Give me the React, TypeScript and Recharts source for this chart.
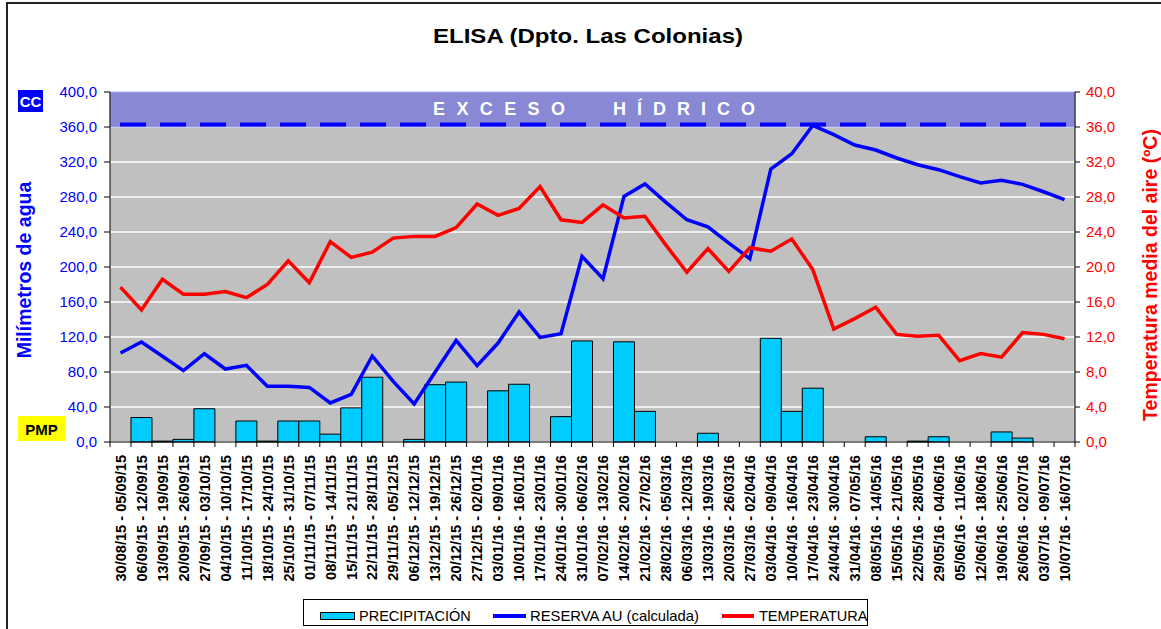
import React from 'react'
import { ComposedChart, Bar, Line, XAxis, YAxis, CartesianGrid, ReferenceArea, ReferenceLine } from 'recharts'

const FONT = '"Liberation Sans", Arial, Helvetica, sans-serif'

const semanas = [
  '30/08/15 - 05/09/15', '06/09/15 - 12/09/15', '13/09/15 - 19/09/15', '20/09/15 - 26/09/15',
  '27/09/15 - 03/10/15', '04/10/15 - 10/10/15', '11/10/15 - 17/10/15', '18/10/15 - 24/10/15',
  '25/10/15 - 31/10/15', '01/11/15 - 07/11/15', '08/11/15 - 14/11/15', '15/11/15 - 21/11/15',
  '22/11/15 - 28/11/15', '29/11/15 - 05/12/15', '06/12/15 - 12/12/15', '13/12/15 - 19/12/15',
  '20/12/15 - 26/12/15', '27/12/15 - 02/01/16', '03/01/16 - 09/01/16', '10/01/16 - 16/01/16',
  '17/01/16 - 23/01/16', '24/01/16 - 30/01/16', '31/01/16 - 06/02/16', '07/02/16 - 13/02/16',
  '14/02/16 - 20/02/16', '21/02/16 - 27/02/16', '28/02/16 - 05/03/16', '06/03/16 - 12/03/16',
  '13/03/16 - 19/03/16', '20/03/16 - 26/03/16', '27/03/16 - 02/04/16', '03/04/16 - 09/04/16',
  '10/04/16 - 16/04/16', '17/04/16 - 23/04/16', '24/04/16 - 30/04/16', '31/04/16 - 07/05/16',
  '08/05/16 - 14/05/16', '15/05/16 - 21/05/16', '22/05/16 - 28/05/16', '29/05/16 - 04/06/16',
  '05/06/16 - 11/06/16', '12/06/16 - 18/06/16', '19/06/16 - 25/06/16', '26/06/16 - 02/07/16',
  '03/07/16 - 09/07/16', '10/07/16 - 16/07/16',
]

// mm
const precipitacion = [
  0, 28, 1, 3, 38, 0, 24, 1, 24, 24, 9, 39, 74, 0, 3, 65.5, 68.5, 0, 58.5, 66, 0, 29, 115.5,
  0, 114.5, 35, 0, 0, 10, 0, 0, 118.5, 35, 61.5, 0, 0, 6, 0, 1, 6, 0, 0, 11.5, 4.5, 0, 0,
]

// mm
const reserva = [
  101.7, 114.3, 98, 81.5, 100.9, 83.4, 87.6, 63.6, 63.6, 62.4, 44.6, 54.4, 98.3, 69.3, 43.4, 80,
  116.1, 87.2, 113.1, 148.6, 119.5, 123.8, 212.1, 186.6, 280.7, 294.9, 273.8, 254, 246, 227.4,
  209.5, 312, 329.5, 361.8, 351.2, 339.4, 333.7, 324.6, 316.9, 311.2, 303.2, 296, 299, 294.4, 286,
  276.9,
]

// ºC
const temperatura = [
  17.7, 15.1, 18.6, 16.9, 16.9, 17.2, 16.5, 18.0, 20.7, 18.2, 22.9, 21.1, 21.7, 23.3, 23.5, 23.5,
  24.5, 27.2, 25.9, 26.7, 29.2, 25.4, 25.1, 27.1, 25.6, 25.8, 22.5, 19.4, 22.1, 19.5, 22.2, 21.8,
  23.2, 19.7, 12.9, 14.1, 15.4, 12.3, 12.1, 12.2, 9.3, 10.1, 9.7, 12.5, 12.3, 11.8,
]

const mmTicks = [0, 40, 80, 120, 160, 200, 240, 280, 320, 360, 400]
const tempTicks = [0, 4, 8, 12, 16, 20, 24, 28, 32, 36, 40]

const capacidadCampo = 360
const lineaCC = 363

const data = semanas.map((semana, i) => ({
  semana,
  precipitacion: precipitacion[i],
  reserva: reserva[i],
  temperatura: temperatura[i],
}))

const fmt = (v: number) => v.toFixed(1).replace('.', ',')

function WeekTick(props: any) {
  const { x, y, payload, index, visibleTicksCount } = props
  const half = payload && payload.offset ? payload.offset : 10.48
  const last = index === visibleTicksCount - 1
  return (
    <g>
      <line x1={x - half} x2={x - half} y1={y} y2={y + 5} stroke="#000" />
      {last && <line x1={x + half} x2={x + half} y1={y} y2={y + 5} stroke="#000" />}
      <text
        x={x}
        y={y + 13}
        transform={`rotate(-90, ${x}, ${y + 13})`}
        textAnchor="end"
        dy="0.36em"
        fontSize={14.6}
        fontWeight="bold"
        fontFamily={FONT}
        fill="#000"
      >
        {payload.value}
      </text>
    </g>
  )
}

function Overlay() {
  return (
    <svg
      width={1161}
      height={629}
      style={{ position: 'absolute', left: 0, top: 0, pointerEvents: 'none' }}
      fontFamily={FONT}
    >
      <line x1={6} y1={3} x2={1161} y2={3} stroke="#222" strokeWidth={2} />
      <line x1={7} y1={2} x2={7} y2={629} stroke="#222" strokeWidth={2} />

      <text x={588} y={43} textAnchor="middle" fontSize={21} fontWeight="bold" fill="#000" textLength={310} lengthAdjust="spacingAndGlyphs">
        ELISA (Dpto. Las Colonias)
      </text>

      <text x={433} y={115} fontSize={18} fontWeight="bold" fill="#fff" textLength={132} lengthAdjust="spacing">
        E X C E S O
      </text>
      <text x={613} y={115} fontSize={18} fontWeight="bold" fill="#fff" textLength={142} lengthAdjust="spacing">
        H Í D R I C O
      </text>

      <text x={24} y={270} transform="rotate(-90, 24, 270)" textAnchor="middle" dominantBaseline="central" fontSize={19.5} fontWeight="bold" fill="#0000FF">
        Milímetros de agua
      </text>
      <text x={1150} y={275} transform="rotate(-90, 1150, 275)" textAnchor="middle" dominantBaseline="central" fontSize={19.5} fontWeight="bold" fill="#FF0000">
        Temperatura media del aire (ºC)
      </text>

      <rect x={18} y={90} width={25} height={22} fill="#0000FF" />
      <text x={30.5} y={107} textAnchor="middle" fontSize={15} fontWeight="bold" fill="#fff">CC</text>
      <rect x={18} y={416} width={47} height={25} fill="#FFFF00" />
      <text x={41.5} y={435} textAnchor="middle" fontSize={15} fontWeight="bold" fill="#000">PMP</text>

      <rect x={303.5} y={599.5} width={564} height={26} fill="#fff" stroke="#000" />
      <rect x={320.5} y={612.5} width={34} height={7} fill="#00CCFF" stroke="#000" />
      <text x={359} y={621} fontSize={14.5} fill="#000">PRECIPITACIÓN</text>
      <line x1={493} x2={526} y1={616} y2={616} stroke="#0000FF" strokeWidth={4} />
      <text x={530} y={621} fontSize={14.5} fill="#000" textLength={169} lengthAdjust="spacingAndGlyphs">RESERVA AU (calculada)</text>
      <line x1={722} x2={754} y1={616} y2={616} stroke="#FF0000" strokeWidth={4} />
      <text x={759} y={621} fontSize={14.5} fill="#000">TEMPERATURA</text>
    </svg>
  )
}

export default function App() {
  return (
    <div style={{ position: 'absolute', left: 0, top: 0, width: 1161, height: 629, background: '#fff', fontFamily: FONT }}>
      <ComposedChart
        width={1161}
        height={629}
        data={data}
        margin={{ top: 92, right: 0, left: 0, bottom: 0 }}
        barCategoryGap={0}
        barGap={0}
      >
        <CartesianGrid yAxisId="mm" vertical={false} stroke="#ffffff" strokeWidth={1.5} fill="#C0C0C0" fillOpacity={1} />
        <XAxis
          dataKey="semana"
          interval={0}
          height={187}
          tickSize={0}
          tickMargin={0}
          tickLine={false}
          axisLine={{ stroke: '#000' }}
          tick={<WeekTick />}
        />
        <YAxis
          yAxisId="mm"
          orientation="left"
          width={110}
          domain={[0, 400]}
          ticks={mmTicks}
          tickFormatter={fmt}
          tickSize={6}
          tickMargin={7}
          axisLine={{ stroke: '#000' }}
          tickLine={{ stroke: '#000' }}
          tick={{ fill: '#0000FF', fontSize: 15, fontFamily: FONT }}
        />
        <YAxis
          yAxisId="temp"
          orientation="right"
          width={86}
          domain={[0, 40]}
          ticks={tempTicks}
          tickFormatter={fmt}
          tickSize={5}
          tickMargin={6}
          axisLine={{ stroke: '#000' }}
          tickLine={{ stroke: '#000' }}
          tick={{ fill: '#FF0000', fontSize: 15, fontFamily: FONT }}
        />
        <ReferenceArea yAxisId="mm" y1={capacidadCampo} y2={400} fill="#8888D4" fillOpacity={1} stroke="#A8A8F0" />
        <Bar yAxisId="mm" dataKey="precipitacion" fill="#00CCFF" stroke="#000" strokeWidth={1} isAnimationActive={false} />
        <Line yAxisId="mm" dataKey="reserva" type="linear" stroke="#0000FF" strokeWidth={3.5} dot={false} isAnimationActive={false} />
        <Line yAxisId="temp" dataKey="temperatura" type="linear" stroke="#FF0000" strokeWidth={3.5} dot={false} isAnimationActive={false} />
        <ReferenceLine yAxisId="mm" y={lineaCC} stroke="#0000FF" strokeWidth={4} strokeDasharray="26 14" strokeDashoffset={30} />
      </ComposedChart>
      <Overlay />
    </div>
  )
}
